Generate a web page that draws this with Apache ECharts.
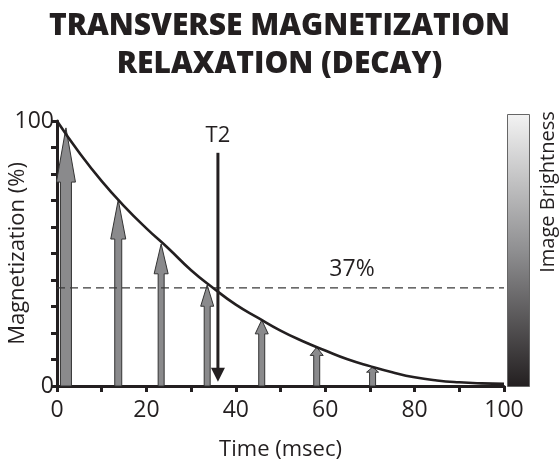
<!DOCTYPE html>
<html>
<head>
<meta charset="utf-8">
<script src="https://cdn.jsdelivr.net/npm/echarts@6/dist/echarts.min.js"></script>
<style>
html,body{margin:0;padding:0;background:#fff;}
#c{width:559px;height:467px;}
</style>
</head>
<body>
<div id="c"></div>
<script>
// ---- data ----
const curveX = [0, 5, 10, 15, 20, 25, 30, 35, 40, 45, 50, 55, 60, 65, 70, 75, 80, 85, 90, 95, 100];
const curveY = [100, 88, 77.3, 67.9, 59.5, 51.8, 43.7, 36.9, 30.7, 25.7, 20.9, 16.9, 13.4, 10.1, 7.5, 5.2, 3.3, 2.1, 1.4, 1.0, 0.8];
const arrowX = [2, 13.7, 23.3, 33.6, 45.8, 58.1, 70.6];
const arrowY = [97.4, 70.2, 53.6, 38.1, 24.9, 14.6, 7.1];
const thresholdY = 37;
const thresholdText = '37%';
const t2X = 36;
const t2Top = 88;
const t2Bottom = 1.6;
const t2Text = 'T2';
const xTicks = [0, 20, 40, 60, 80, 100];
const yTicks = [0, 100];

// ---- styles ----
const FONT = '"Open Sans", sans-serif';
const INK = '#231f20';
const shaftW = [11, 7, 6, 6, 6, 6, 6];
const headW = [19, 15, 14, 13, 13, 13, 12];

const chart = echarts.init(document.getElementById('c'), null, {renderer: 'canvas'});

const option = {
  backgroundColor: '#fff',
  animation: false,
  title: {
    text: 'TRANSVERSE MAGNETIZATION\nRELAXATION (DECAY)',
    left: 'center',
    top: 2,
    textStyle: {fontFamily: '"Open Sans", sans-serif', fontWeight: 800, fontSize: 30, lineHeight: 38, color: INK}
  },
  grid: {left: 57, right: 55, top: 121, bottom: 81, containLabel: false, outerBoundsMode: 'none'},
  xAxis: {
    type: 'value', min: 0, max: 100, interval: 10,
    name: 'Time (msec)', nameLocation: 'middle', nameGap: 53, nameMoveOverlap: false,
    nameTextStyle: {fontFamily: FONT, fontSize: 22, color: INK},
    axisLine: {show: true, lineStyle: {color: INK, width: 3}},
    axisTick: {show: true, inside: false, length: 6, lineStyle: {color: INK, width: 3}},
    axisLabel: {
      margin: 13, fontFamily: FONT, fontSize: 23, color: INK,
      formatter: v => xTicks.indexOf(v) >= 0 ? String(v) : ''
    },
    splitLine: {show: false}
  },
  yAxis: {
    type: 'value', min: 0, max: 100, interval: 10,
    name: 'Magnetization (%)', nameLocation: 'middle', nameGap: 28, nameMoveOverlap: false,
    nameTextStyle: {fontFamily: FONT, fontSize: 22, color: INK},
    axisLine: {show: true, lineStyle: {color: INK, width: 3}},
    axisTick: {show: true, inside: false, length: 6, lineStyle: {color: INK, width: 3}},
    axisLabel: {
      margin: 3, fontFamily: FONT, fontSize: 23, color: INK,
      formatter: v => yTicks.indexOf(v) >= 0 ? String(v) : ''
    },
    splitLine: {show: false}
  },
  graphic: [
    {
      type: 'rect', left: 507, top: 114, z: 10,
      shape: {width: 22, height: 272},
      style: {
        fill: new echarts.graphic.LinearGradient(0, 0, 0, 1, [
          {offset: 0, color: '#f3f3f3'},
          {offset: 0.5, color: '#8f8f91'},
          {offset: 1, color: '#231f20'}
        ]),
        stroke: '#666', lineWidth: 1
      }
    },
    {
      type: 'text', x: 548, y: 192, rotation: Math.PI / 2, z: 10,
      style: {text: 'Image Brightness', fontFamily: FONT, fontSize: 20, fill: INK, align: 'center', verticalAlign: 'middle'}
    }
  ],
  series: [
    {
      type: 'custom',
      name: 'arrows',
      data: arrowX.map((x, i) => [x, arrowY[i]]),
      z: 2,
      renderItem: function (params, api) {
        const i = params.dataIndex;
        const base = api.coord([api.value(0), 0]);
        const tip = api.coord([api.value(0), api.value(1)]);
        const len = base[1] - tip[1];
        const hl = Math.max(5, len * 0.21);
        const sw = shaftW[i] / 2, hw = headW[i] / 2, cx = tip[0];
        return {
          type: 'polygon',
          shape: {points: [
            [cx - sw, base[1]], [cx - sw, tip[1] + hl], [cx - hw, tip[1] + hl], [cx, tip[1]],
            [cx + hw, tip[1] + hl], [cx + sw, tip[1] + hl], [cx + sw, base[1]]
          ]},
          style: {fill: '#8a8a8c', stroke: '#333', lineWidth: 1}
        };
      }
    },
    {
      type: 'line',
      name: 'threshold',
      data: [[0, thresholdY], [100, thresholdY]],
      symbol: 'none',
      z: 3,
      lineStyle: {color: '#3a3a3a', width: 1.3, type: [8, 5]}
    },
    {
      type: 'line',
      name: 'decay',
      data: curveX.map((x, i) => [x, curveY[i]]),
      symbol: 'none',
      smooth: 0.5,
      z: 4,
      lineStyle: {color: INK, width: 2.6}
    },
    {
      type: 'custom',
      name: 't2',
      data: [[t2X, t2Top, t2Bottom]],
      z: 5,
      renderItem: function (params, api) {
        const top = api.coord([api.value(0), api.value(1)]);
        const bot = api.coord([api.value(0), api.value(2)]);
        const hl = 14, hw = 7, cx = top[0];
        return {
          type: 'group',
          children: [
            {type: 'line', shape: {x1: cx, y1: top[1], x2: cx, y2: bot[1] - hl + 1}, style: {stroke: INK, lineWidth: 3}},
            {type: 'polygon', shape: {points: [[cx - hw, bot[1] - hl], [cx + hw, bot[1] - hl], [cx, bot[1]]]}, style: {fill: INK}},
            {type: 'text', x: cx, y: top[1] - 6, style: {text: t2Text, fontFamily: FONT, fontSize: 22, fill: INK, align: 'center', verticalAlign: 'bottom'}}
          ]
        };
      }
    },
    {
      type: 'custom',
      name: 'thresholdLabel',
      data: [[66, thresholdY]],
      z: 5,
      renderItem: function (params, api) {
        const p = api.coord([api.value(0), api.value(1)]);
        return {type: 'text', x: p[0], y: p[1] - 7, style: {text: thresholdText, fontFamily: FONT, fontSize: 23, fill: INK, align: 'center', verticalAlign: 'bottom'}};
      }
    }
  ]
};
chart.setOption(option);
</script>
</body>
</html>
